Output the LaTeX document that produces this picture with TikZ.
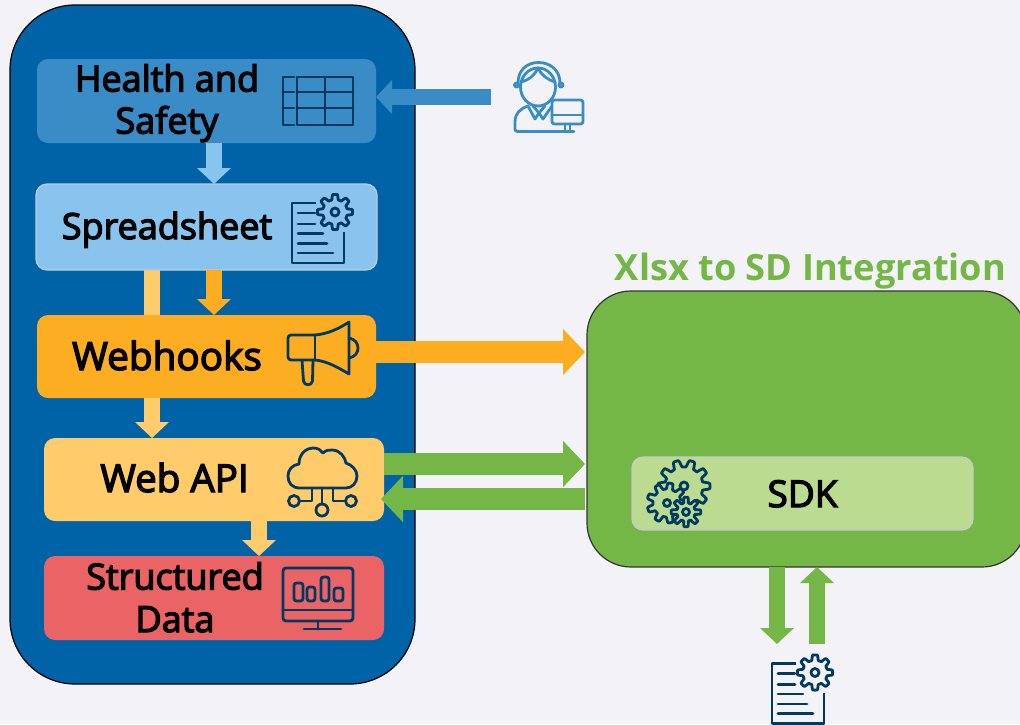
\documentclass[tikz,border=0pt]{standalone}
\usepackage{fontspec}
\setmainfont{Open Sans}
\newfontfamily\labelfont[FakeBold=3.5]{Open Sans}
\usetikzlibrary{arrows.meta}
\definecolor{pagebg}{HTML}{F2F2F7}
\definecolor{bigblue}{HTML}{0063A7}
\definecolor{midblue}{HTML}{3A8CC6}
\definecolor{lightblue}{HTML}{88C4ED}
\definecolor{orangeA}{HTML}{FDAD22}
\definecolor{orangeB}{HTML}{FFCB6B}
\definecolor{redbox}{HTML}{EA6365}
\definecolor{greenA}{HTML}{74B746}
\definecolor{greenB}{HTML}{BBDB90}
\definecolor{icondark}{HTML}{003A63}
\definecolor{boxedge}{HTML}{C4CAD0}
\tikzset{
  box/.style={rounded corners=#1,inner sep=0pt,outer sep=0pt,rectangle},
  lbl/.style={font=\labelfont\fontsize{36}{42}\selectfont,text=black,anchor=base,align=center,inner sep=0pt},
  icon/.style={draw=icondark,line width=2.8pt,line join=round,line cap=round},
  flowS/.style={line width=16pt,-{Triangle[length=16pt,width=33pt]},draw=#1},
  flowL/.style={line width=22pt,-{Triangle[length=22pt,width=45pt]},draw=#1},
}
% gear: centre x, centre y, mean radius, tooth amplitude, hole radius, teeth, fill
\newcommand{\gearicon}[7]{%
  \draw[icon,fill=#7] plot[domain=0:360,samples=145,variable=\t]
    ({#1+(#3+#4*max(-1,min(1,2.2*cos(#6*\t))))*cos(\t)},{#2+(#3+#4*max(-1,min(1,2.2*cos(#6*\t))))*sin(\t)}) -- cycle;
  \draw[icon] (#1,#2) circle[radius=#5];
}
% document with gear, relative to an offset
\newcommand{\docicon}[3]{%
  \begin{scope}[shift={(#1,#2)}]
    \draw[icon,line cap=butt] (316,203) -- (292,203) -- (292,263) -- (344,263) -- (344,232);
    \draw[icon] (298,213) -- (315,213) (298,224) -- (315,224) (298,233.5) -- (323,233.5) (298,243.5) -- (327,243.5) (298,253) -- (333,253);
    \gearicon{335}{212}{15}{2.6}{4}{8}{#3}
  \end{scope}}
\begin{document}
\begin{tikzpicture}[x=1pt,y=-1pt]
\useasboundingbox (0,0) rectangle (1020,724);
\fill[pagebg] (0,0) rectangle (1020,724);
\clip (0,0) rectangle (1020,724);

% containers
\draw[fill=bigblue,draw=black,line width=1.2pt,rounded corners=65pt] (10,5) rectangle (415,684);

% arrow that runs behind the boxes
\coordinate (spreadL) at (152,270);
\coordinate (webhookL) at (152,315);
\draw[draw=orangeB,line width=16pt] (spreadL) -- (webhookL);

% boxes
\node[box=11pt,fill=midblue,minimum width=339pt,minimum height=84pt] (hs) at (206.5,101) {};
\node[box=11pt,fill=lightblue,draw=boxedge,line width=1.2pt,minimum width=341pt,minimum height=86pt] (ss) at (206.5,227) {};
\node[box=11pt,fill=orangeA,minimum width=339pt,minimum height=83pt] (wh) at (206.5,356.5) {};
\node[box=11pt,fill=orangeB,minimum width=340pt,minimum height=83pt] (api) at (214,479.5) {};
\node[box=11pt,fill=redbox,minimum width=340pt,minimum height=84pt] (sd) at (214,598) {};
\draw[fill=greenA,draw=black!80,line width=1.2pt,rounded corners=44pt] (587,291) rectangle (1026,567);
\coordinate (greenW1) at (585,352);
\coordinate (greenW2) at (585,464);
\coordinate (greenW3) at (585,499);
\coordinate (greenS1) at (777,567);
\coordinate (greenS2) at (817,567);
\node[box=11pt,fill=greenB,draw=boxedge,line width=1.2pt,minimum width=341pt,minimum height=73pt] (sdk) at (802.5,493.5) {};

% labels
\node[lbl] (t1) at (167,91.5) {Health and};
\node[lbl] (t1b) at (167,133.5) {Safety};
\node[lbl] (t2) at (167,239) {Spreadsheet};
\node[lbl,font=\labelfont\fontsize{38.7}{42}\selectfont] (t3) at (167,370) {Webhooks};
\node[lbl,font=\labelfont\fontsize{38.5}{42}\selectfont] (t4) at (174.5,492) {Web API};
\node[lbl] (t5) at (175,589.5) {Structured};
\node[lbl] (t5b) at (175,632) {Data};
\node[lbl,font=\labelfont\fontsize{37}{42}\selectfont] (t6) at (802.5,507) {SDK};
\node[font=\bfseries\fontsize{36.2}{40}\selectfont,text=greenA,anchor=base,inner sep=0pt] (title) at (810.5,280) {Xlsx to SD Integration};

% connectors
\coordinate (userL) at (491,97);
\coordinate (docT1) at (777,644);
\coordinate (docT2) at (817,644);
\draw[flowS=midblue] (userL) -- ([yshift=4pt]hs.east);
\draw[flowS=lightblue] ([xshift=7.5pt]hs.south) -- ([xshift=7.5pt]ss.north);
\draw[flowS=orangeA] ([xshift=7.5pt]ss.south) -- ([xshift=7.5pt]wh.north);
\draw[flowS=orangeB] (wh.south -| spreadL) -- (api.north -| spreadL);
\draw[flowS=orangeB] ([xshift=45pt]api.south) -- ([xshift=45pt]sd.north);
\draw[flowL=orangeA] (wh.east |- greenW1) -- (greenW1);
\draw[flowL=greenA] (api.east |- greenW2) -- (greenW2);
\draw[flowL=greenA] (greenW3) -- ([xshift=-3pt]api.east |- greenW3);
\draw[flowS=greenA] (greenS1) -- (docT1);
\draw[flowS=greenA] (docT2) -- (greenS2);

% table icon
\draw[icon] (297,77) rectangle (353,125) (325,77) -- (325,125) (297,92) -- (353,92) (297,108) -- (353,108);
\draw[icon] (294,77) -- (283,77) -- (283,125) -- (294,125) (283,92) -- (294,92) (283,108) -- (294,108);

% spreadsheet icon
\docicon{0}{0}{lightblue}

% megaphone
\draw[icon,rounded corners=3pt] (315,335) -- (288,335) -- (288,360) -- (315,360);
\draw[icon] (315,335) -- (315,360);
\draw[icon] (315,335) .. controls (328,334) and (340,328) .. (349,322) -- (349,374) .. controls (339,368) and (327,361) .. (315,360);
\draw[icon] (349,338) .. controls (361,340) and (361,356) .. (349,358);
\draw[icon] (302,360) -- (303.5,381) .. controls (304,386) and (312,386) .. (312.5,381) -- (313,360);

% cloud
\draw[icon] (300,488) .. controls (292,488) and (288,483) .. (288,476) .. controls (288,470) and (292,465) .. (299,464) .. controls (299,453) and (307,448) .. (313,448) .. controls (318,448) and (321,450) .. (323,453) .. controls (326,450) and (329,450) .. (332,450) .. controls (340,450) and (345,457) .. (346,463) .. controls (352,465) and (357,470) .. (357,476) .. controls (357,483) and (352,488) .. (346,488) -- cycle;
\draw[icon] (294,501) circle[radius=5.5] (322,510) circle[radius=6] (351,501) circle[radius=5.5];
\draw[icon] (299.5,501) -- (312,501) -- (312,488) (322,488) -- (322,504) (333,488) -- (333,501) -- (345.5,501);

% monitor
\draw[icon,rounded corners=3pt] (283,568) rectangle (353,621);
\draw[icon] (283,610) -- (353,610) (318,621) -- (318,629) (304,629) -- (341,629);
\draw[icon,rounded corners=2.5pt] (294,583) rectangle (303,601) (307,587) rectangle (315,601) (321,577) rectangle (329,601) (334,588) rectangle (343,601);

% user icon
\begin{scope}[icon/.append style={draw=midblue}]
\draw[icon] (538,87) ellipse[x radius=17.5,y radius=19];
\draw[icon] (518,83) .. controls (518,70) and (527,62.5) .. (538.5,62.5) .. controls (550,62.5) and (560,70) .. (560,83);
\draw[icon] (521,82) .. controls (529,80) and (535,75) .. (538,68) .. controls (541,75) and (548,80) .. (555,82);
\draw[icon] (516.5,85) circle[radius=2] (561,85) circle[radius=2];
\draw[icon] (528,106) .. controls (520,109) and (515,113) .. (515,122) -- (515,129) .. controls (515,131) and (516,131.5) .. (518,131.5) -- (574,131.5);
\draw[icon] (528,106) -- (535,119) -- (539,113) -- (543,119) -- (552,106) (533,106) -- (539,113) -- (545,106);
\draw[icon,rounded corners=2.5pt,fill=pagebg] (552,100) rectangle (583,124);
\draw[icon] (552,115) -- (583,115) (565,124) -- (565,131) (570,124) -- (570,131);
\end{scope}

% gears
\gearicon{684}{486}{22.5}{3.5}{4}{10}{greenB}
\gearicon{667}{503}{17}{3}{3.5}{9}{greenB}
\gearicon{686}{512}{12}{2.8}{3.5}{8}{greenB}

% bottom document
\docicon{480}{460.5}{pagebg}
\end{tikzpicture}
\end{document}
